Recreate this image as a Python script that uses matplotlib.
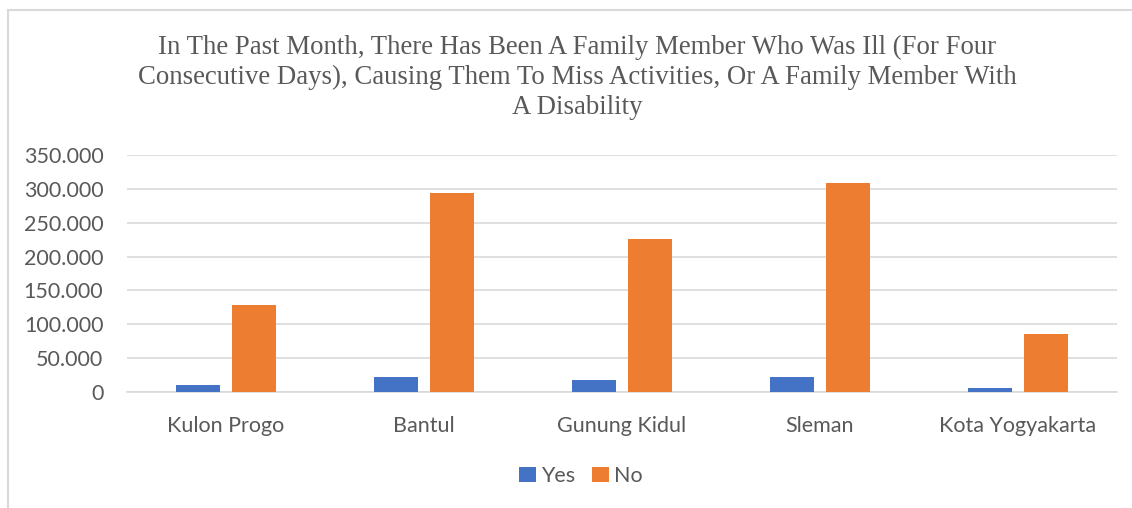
import matplotlib.pyplot as plt
from matplotlib.patches import Rectangle
from matplotlib.ticker import FuncFormatter
import numpy as np

regions = ['Kulon Progo', 'Bantul', 'Gunung Kidul', 'Sleman', 'Kota Yogyakarta']
yes_vals = [10100, 22200, 17700, 21700, 6100]
no_vals = [128300, 293600, 225400, 308900, 86200]
title = ("In The Past Month, There Has Been A Family Member Who Was Ill (For Four\n"
         "Consecutive Days), Causing Them To Miss Activities, Or A Family Member With\n"
         "A Disability")

W, H = 1132, 508
fig = plt.figure(figsize=(W / 100, H / 100), dpi=100)
fig.patches.append(Rectangle((8 / W, -0.1), 1.2, (H - 10) / H + 0.1,
                             transform=fig.transFigure, fill=False,
                             ec='#d9d9d9', lw=1.5))

ax = fig.add_axes([127 / W, (H - 392) / H, 990 / W, 237 / H])
x = np.arange(len(regions))
w = 0.224
off = w * 1.27 / 2
ax.bar(x - off, yes_vals, w, color='#4472C4', label='Yes', zorder=3)
ax.bar(x + off, no_vals, w, color='#ED7D31', label='No', zorder=3)

ax.set_xlim(-0.5, len(regions) - 0.5)
ax.set_ylim(0, 350000)
ax.set_yticks(np.arange(0, 350001, 50000))
ax.yaxis.set_major_formatter(FuncFormatter(lambda v, p: '{:,.0f}'.format(v).replace(',', '.')))
ax.set_xticks(x)
ax.set_xticklabels(regions)
ax.grid(axis='y', color='#d9d9d9', lw=1.2, zorder=0)
for s in ['top', 'right', 'left']:
    ax.spines[s].set_visible(False)
ax.spines['bottom'].set_color('#d9d9d9')
ax.spines['bottom'].set_linewidth(1.2)
ax.tick_params(axis='both', length=0, colors='#595959', labelsize=15.5)
ax.tick_params(axis='y', pad=17)
ax.tick_params(axis='x', pad=17)
for lab in ax.get_xticklabels() + ax.get_yticklabels():
    lab.set_family('Lato')

fig.text(577 / W, 1 - 35 / H, title, ha='center', va='top', fontsize=19.3,
         family='Liberation Serif', color='#595959', linespacing=1.26)

fig.legend(loc='center', bbox_to_anchor=(581 / W, 1 - 476 / H), ncol=2, frameon=False,
           prop={'family': 'Lato', 'size': 15.5}, labelcolor='#595959',
           handlelength=0.75, handleheight=0.75, handletextpad=0.25, columnspacing=0.8)

fig.savefig('out.png', dpi=100)
